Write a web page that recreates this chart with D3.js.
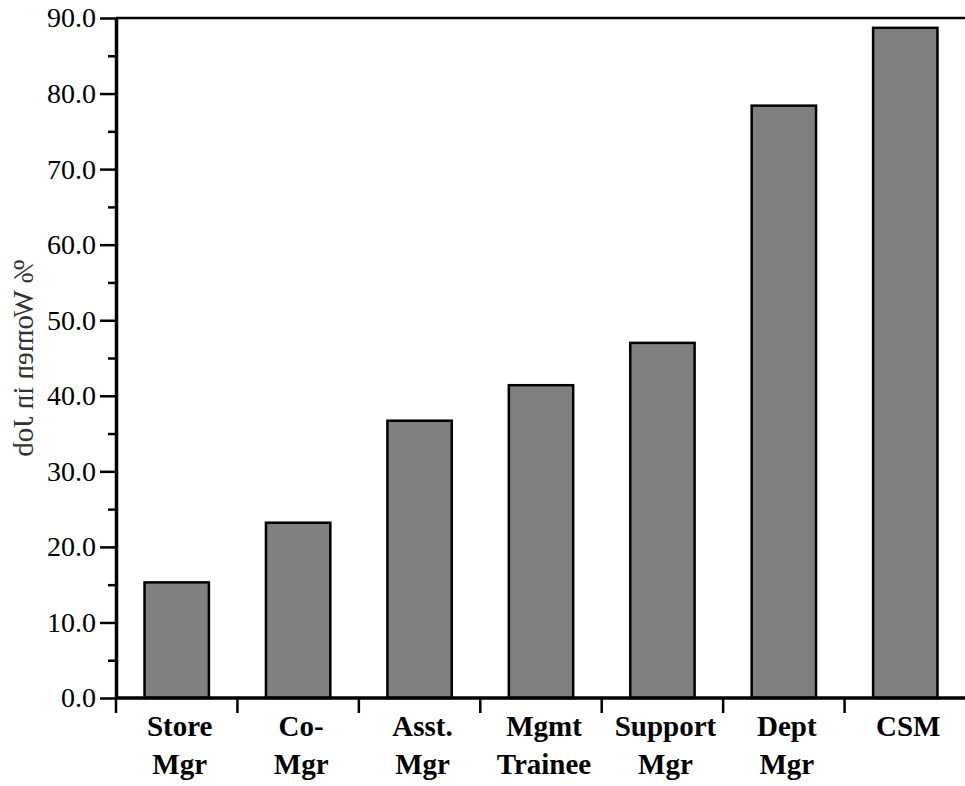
<!DOCTYPE html>
<html>
<head>
<meta charset="utf-8">
<script src="https://cdn.jsdelivr.net/npm/d3@7"></script>
<style>
  body { margin: 0; background: #fff; }
  svg { display: block; }
</style>
</head>
<body>
<div id="chart"></div>
<script>
// 数据
let jobs = [["Store", "Mgr"], ["Co-", "Mgr"], ["Asst.", "Mgr"], ["Mgmt", "Trainee"], ["Support", "Mgr"], ["Dept", "Mgr"], ["CSM"]];
let pctWomen = [15.3, 23.2, 36.7, 41.4, 47.0, 78.4, 88.7];
let yTicks = [0, 10, 20, 30, 40, 50, 60, 70, 80, 90];
let yLabel = "% Women in Job";

let width = 965;
let height = 786;
let margin = { top: 18, right: -1, bottom: 88, left: 116 };
let serif = "'Liberation Serif', 'Times New Roman', Times, serif";

let svg = d3.select("#chart")
    .append("svg")
    .attr("width", width)
    .attr("height", height);

let x = d3.scaleBand()
    .domain(d3.range(jobs.length))
    .range([margin.left, width - margin.right])
    .paddingInner(0.47)
    .paddingOuter(0.235);

let xTick = d3.scaleBand()
    .domain(d3.range(jobs.length))
    .range([margin.left, width - margin.right]);

let y = d3.scaleLinear()
    .domain([0, 90])
    .range([height - margin.bottom, margin.top]);

// 条形
svg.selectAll("rect.bar")
    .data(pctWomen)
    .enter()
    .append("rect")
    .attr("class", "bar")
    .attr("x", (d, i) => x(i))
    .attr("y", d => y(d))
    .attr("width", x.bandwidth())
    .attr("height", d => y(0) - y(d))
    .attr("fill", "#808080")
    .attr("stroke", "#000")
    .attr("stroke-width", 2.5);

// 顶部线
svg.append("line")
    .attr("x1", margin.left).attr("x2", width)
    .attr("y1", y(90)).attr("y2", y(90))
    .attr("stroke", "#000").attr("stroke-width", 2.5);

// y 轴 (小刻度)
svg.append("g")
    .attr("transform", `translate(${margin.left},0)`)
    .call(d3.axisLeft(y).tickValues(d3.range(5, 90, 10)).tickSize(8).tickFormat(""))
    .call(g => g.select(".domain").remove())
    .selectAll("line").attr("stroke-width", 2.5);

// y 轴 (主刻度)
let yAxis = svg.append("g")
    .attr("transform", `translate(${margin.left},0)`)
    .call(d3.axisLeft(y).tickValues(yTicks).tickSize(16).tickSizeOuter(0).tickPadding(4).tickFormat(d3.format(".1f")));
yAxis.select(".domain").attr("stroke-width", 3.5);
yAxis.selectAll("line").attr("stroke-width", 2.5);
yAxis.selectAll("text")
    .attr("font-family", serif)
    .attr("font-size", "28px")
    .attr("fill", "#000");

// x 轴
let xAxisG = svg.append("g")
    .attr("transform", `translate(0,${y(0)})`);
xAxisG.append("line")
    .attr("x1", margin.left).attr("x2", width)
    .attr("stroke", "#000").attr("stroke-width", 3.5);
xAxisG.selectAll("line.tick")
    .data(d3.range(jobs.length))
    .enter()
    .append("line")
    .attr("class", "tick")
    .attr("x1", d => xTick(d)).attr("x2", d => xTick(d))
    .attr("y1", 0).attr("y2", 15)
    .attr("stroke", "#000").attr("stroke-width", 2.5);

// x 轴标签
let lbl = xAxisG.selectAll("text.lbl")
    .data(jobs)
    .enter()
    .append("text")
    .attr("class", "lbl")
    .attr("text-anchor", "middle")
    .attr("font-family", serif)
    .attr("font-weight", "bold")
    .attr("font-size", "29px")
    .attr("fill", "#000");
lbl.selectAll("tspan")
    .data(d => d)
    .enter()
    .append("tspan")
    .attr("x", function () {
        let i = jobs.indexOf(d3.select(this.parentNode).datum());
        return xTick(i) + xTick.bandwidth() / 2 + 3;
    })
    .attr("y", (d, j) => 38 + j * 38)
    .text(d => d);

// y 轴标题（镜像）
svg.append("text")
    .attr("transform", `translate(23,${(y(0) + y(90)) / 2}) rotate(-90) scale(-1,1)`)
    .attr("text-anchor", "middle")
    .attr("dy", "0.35em")
    .attr("font-family", serif)
    .attr("font-size", "29px")
    .attr("fill", "#333")
    .text(yLabel);
</script>
</body>
</html>
